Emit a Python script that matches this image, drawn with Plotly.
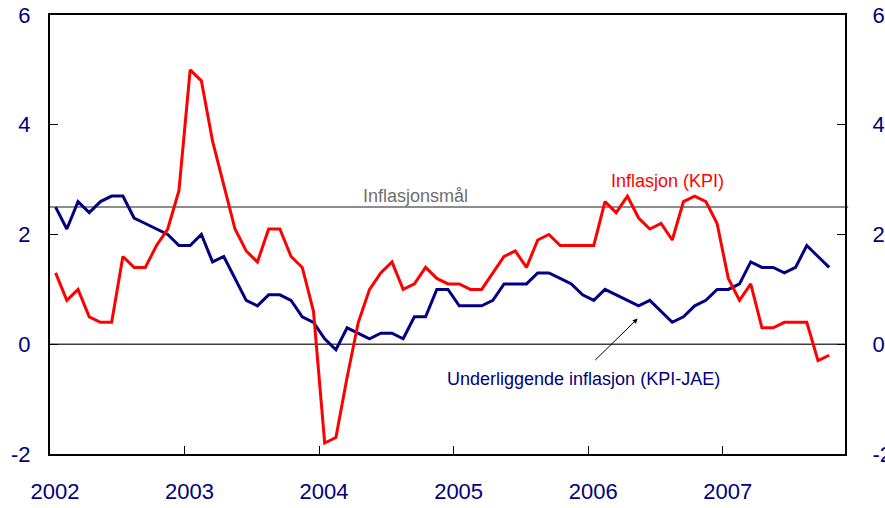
import plotly.graph_objects as go

# Monthly data Jan 2002 - Oct 2007
start_year = 2002
kpi = [1.3, 0.8, 1.0, 0.5, 0.4, 0.4, 1.6, 1.4, 1.4, 1.8, 2.1, 2.8,
       5.0, 4.8, 3.7, 2.9, 2.1, 1.7, 1.5, 2.1, 2.1, 1.6, 1.4, 0.6,
       -1.8, -1.7, -0.6, 0.4, 1.0, 1.3, 1.5, 1.0, 1.1, 1.4, 1.2, 1.1,
       1.1, 1.0, 1.0, 1.3, 1.6, 1.7, 1.4, 1.9, 2.0, 1.8, 1.8, 1.8,
       1.8, 2.6, 2.4, 2.7, 2.3, 2.1, 2.2, 1.9, 2.6, 2.7, 2.6, 2.2,
       1.2, 0.8, 1.1, 0.3, 0.3, 0.4, 0.4, 0.4, -0.3, -0.2]
kpi_jae = [2.5, 2.1, 2.6, 2.4, 2.6, 2.7, 2.7, 2.3, 2.2, 2.1, 2.0, 1.8,
           1.8, 2.0, 1.5, 1.6, 1.2, 0.8, 0.7, 0.9, 0.9, 0.8, 0.5, 0.4,
           0.1, -0.1, 0.3, 0.2, 0.1, 0.2, 0.2, 0.1, 0.5, 0.5, 1.0, 1.0,
           0.7, 0.7, 0.7, 0.8, 1.1, 1.1, 1.1, 1.3, 1.3, 1.2, 1.1, 0.9,
           0.8, 1.0, 0.9, 0.8, 0.7, 0.8, 0.6, 0.4, 0.5, 0.7, 0.8, 1.0,
           1.0, 1.1, 1.5, 1.4, 1.4, 1.3, 1.4, 1.8, 1.6, 1.4]
inflation_target = 2.5
year_ticks = [2002, 2003, 2004, 2005, 2006, 2007]
y_ticks = [-2, 0, 2, 4, 6]
y_tick_labels = ["-2", "0", "2", "4", "6"]

x = [start_year + (i + 0.5) / 12 for i in range(len(kpi))]

NAVY = "#000080"
RED = "#ff0000"
FONT = "Arial, Liberation Sans, sans-serif"

fig = go.Figure()
fig.add_trace(go.Scatter(x=x, y=kpi_jae, mode="lines",
                         line=dict(color=NAVY, width=3), showlegend=False))
fig.add_trace(go.Scatter(x=x, y=kpi, mode="lines",
                         line=dict(color=RED, width=3), showlegend=False))
# invisible trace for right axis
fig.add_trace(go.Scatter(x=[x[0]], y=[0], yaxis="y2", mode="markers",
                         marker=dict(opacity=0), showlegend=False, hoverinfo="skip"))

# zero line and target line
fig.add_shape(type="line", xref="paper", x0=0, x1=1, yref="y", y0=0, y1=0,
              line=dict(color="#404040", width=1.3), layer="below")
fig.add_shape(type="line", xref="paper", x0=0, x1=1.004, yref="y",
              y0=inflation_target, y1=inflation_target,
              line=dict(color="#8c8c8c", width=2), layer="below")

fig.add_annotation(x=2004.714, y=2.70, text="Inflasjonsmål", showarrow=False,
                   font=dict(family=FONT, size=18, color="#6e6e6e"))
fig.add_annotation(x=2006.592, y=2.97, text="Inflasjon (KPI)", showarrow=False,
                   font=dict(family=FONT, size=18, color=RED))
fig.add_annotation(x=2005.968, y=-0.64, text="Underliggende inflasjon (KPI-JAE)",
                   showarrow=False, font=dict(family=FONT, size=18, color=NAVY))
fig.add_annotation(x=2006.368, y=0.468, ax=-44, ay=43, text="", showarrow=True,
                   arrowhead=2, arrowsize=1, arrowwidth=1, arrowcolor="black")

axis_common = dict(ticks="inside", ticklen=8, tickwidth=1, tickcolor="black",
                   showline=True, linecolor="black", linewidth=2,
                   showgrid=False, zeroline=False, automargin=False,
                   tickfont=dict(family=FONT, size=22, color=NAVY))

fig.update_layout(
    width=885, height=508,
    margin=dict(l=50, r=40, t=15, b=54),
    paper_bgcolor="white", plot_bgcolor="white",
    font=dict(family=FONT, size=22, color=NAVY),
    xaxis=dict(range=[2002, 2007.909], tickvals=year_ticks,
               ticktext=[str(v) for v in year_ticks], mirror=True,
               ticklabelshift=5, ticklabelstandoff=17, **axis_common),
    yaxis=dict(range=[-2, 6], tickvals=y_ticks, ticktext=y_tick_labels,
               ticklabelstandoff=13, **axis_common),
    yaxis2=dict(range=[-2, 6], tickvals=y_ticks, ticktext=y_tick_labels,
                overlaying="y", side="right", ticklabelstandoff=21,
                **axis_common),
)

fig.write_html("out.html",
               config={"displayModeBar": False},
               post_script="document.body.style.margin='0';"
                           "document.body.style.overflow='hidden';")
